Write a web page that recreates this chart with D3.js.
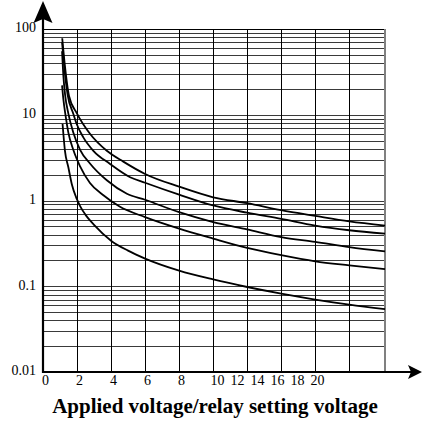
<!DOCTYPE html>
<html>
<head>
<meta charset="utf-8">
<script src="https://cdn.jsdelivr.net/npm/d3@7"></script>
<style>
  body { margin: 0; background: #fff; }
  svg { display: block; }
</style>
</head>
<body>
<div class="chart"></div>
<script>
// GLOBAL CONSTANTS
const FRAME_WIDTH = 423;
const FRAME_HEIGHT = 423;
const MARGINS = {left: 43, right: 38, top: 29, bottom: 51};
const SERIF = "Liberation Serif";

const GRAPH_WIDTH = FRAME_WIDTH - MARGINS.left - MARGINS.right;
const GRAPH_HEIGHT = FRAME_HEIGHT - MARGINS.top - MARGINS.bottom;

// DATA
const X_TICKS = [0, 2, 4, 6, 8, 10, 12, 14, 16, 18, 20];
const X_GRID = [2, 4, 6, 8, 10, 12, 14, 16, 18];
const X_MAX = 20.1;
const Y_TICKS = [0.01, 0.1, 1, 10, 100];
const Y_TICK_LABELS = ["0.01", "0.1", "1", "10", "100"];
const X_TITLE = "Applied voltage/relay setting voltage";

const CURVE_A = [[1.13, 78], [1.29, 37], [1.53, 16.6], [2.0, 10.3], [2.76, 6.0], [3.75, 3.8],
                 [4.72, 2.84], [6, 2.04], [8, 1.45], [10, 1.09], [12, 0.93], [14, 0.77],
                 [16, 0.66], [18, 0.57], [20.1, 0.51]];
const CURVE_B = [[1.12, 70], [1.25, 36], [1.45, 17], [1.78, 10.3], [1.98, 7.8], [2.37, 5.45],
                 [2.96, 3.8], [3.94, 2.67], [5.12, 1.87], [6, 1.61], [8, 1.17], [10, 0.875],
                 [12, 0.72], [14, 0.61], [16, 0.51], [18, 0.45], [20.1, 0.41]];
const CURVE_C = [[1.12, 55], [1.2, 28], [1.3, 17], [1.49, 10.3], [1.78, 6.2], [2.18, 3.9],
                 [2.76, 2.7], [3.75, 1.72], [4.93, 1.2], [6, 1.02], [8, 0.73], [10, 0.56],
                 [12, 0.46], [14, 0.375], [16, 0.33], [18, 0.286], [20.1, 0.255]];
const CURVE_D = [[1.12, 22], [1.2, 15], [1.31, 10.3], [1.49, 6.2], [1.78, 3.9], [2.18, 2.5],
                 [2.76, 1.6], [3.55, 1.15], [4.5, 0.85], [6, 0.64], [8, 0.47], [10, 0.36],
                 [12, 0.28], [14, 0.23], [16, 0.195], [18, 0.175], [20.1, 0.158]];
const CURVE_E = [[1.15, 7.8], [1.29, 3.8], [1.49, 2.44], [1.69, 1.56], [1.98, 1.05], [2.18, 0.86],
                 [2.5, 0.68], [3, 0.52], [4, 0.34], [5, 0.26], [6, 0.21], [8, 0.152],
                 [10, 0.12], [12, 0.098], [14, 0.082], [16, 0.07], [18, 0.061], [20.1, 0.054]];

// FRAME
const FRAME = d3.select(".chart")
                .append("svg")
                  .attr("width", FRAME_WIDTH)
                  .attr("height", FRAME_HEIGHT);

// SCALES
const X_SCALE = d3.scaleLinear()
                  .domain([0, X_MAX])
                  .range([MARGINS.left, MARGINS.left + GRAPH_WIDTH]);

const Y_SCALE = d3.scaleLog()
                  .domain([0.01, 100])
                  .range([MARGINS.top + GRAPH_HEIGHT, MARGINS.top]);

// the printed x labels drift off the grid after 8, so they get their own scale
const X_LABEL_SCALE = d3.scaleLinear()
                        .domain([0, 8, 10, 20])
                        .range([45, 181, 217, 317]);

const crisp = (v) => Math.round(v) + 0.5;

// HORIZONTAL GRID (decades and 2..9 minors)
FRAME.append("g")
  .selectAll("line")
  .data(Y_SCALE.ticks().filter((d) => d > 0.01))
  .enter()
  .append("line")
    .attr("x1", MARGINS.left)
    .attr("x2", X_SCALE(X_MAX))
    .attr("y1", (d) => crisp(Y_SCALE(d)))
    .attr("y2", (d) => crisp(Y_SCALE(d)))
    .attr("stroke", (d) => d === 100 ? "#000" : "#3a3a3a")
    .attr("stroke-width", 1);

// VERTICAL GRID
FRAME.append("g")
  .selectAll("line")
  .data(X_GRID)
  .enter()
  .append("line")
    .attr("x1", (d) => crisp(X_SCALE(d)))
    .attr("x2", (d) => crisp(X_SCALE(d)))
    .attr("y1", Y_SCALE(100))
    .attr("y2", Y_SCALE(0.01))
    .attr("stroke", "#000")
    .attr("stroke-width", 1);

// RIGHT BORDER
FRAME.append("line")
  .attr("x1", X_SCALE(X_MAX))
  .attr("x2", X_SCALE(X_MAX))
  .attr("y1", Y_SCALE(100))
  .attr("y2", Y_SCALE(0.01))
  .attr("stroke", "#808080")
  .attr("stroke-width", 2);

// CURVES
const LINE = d3.line()
               .x((d) => X_SCALE(d[0]))
               .y((d) => Y_SCALE(d[1]))
               .curve(d3.curveMonotoneX);

FRAME.append("g")
  .selectAll("path")
  .data([CURVE_A, CURVE_B, CURVE_C, CURVE_D, CURVE_E])
  .enter()
  .append("path")
    .attr("d", LINE)
    .attr("fill", "none")
    .attr("stroke", "#000")
    .attr("stroke-width", 1.8);

// AXIS LINES + ARROWS
const X0 = X_SCALE(0);
const Y0 = Y_SCALE(0.01);

FRAME.append("line")
  .attr("x1", X0).attr("x2", X0)
  .attr("y1", Y0 + 1).attr("y2", 12)
  .attr("stroke", "#000")
  .attr("stroke-width", 2.2);

FRAME.append("line")
  .attr("x1", X0 - 1).attr("x2", 412)
  .attr("y1", Y0).attr("y2", Y0)
  .attr("stroke", "#000")
  .attr("stroke-width", 2.2);

FRAME.append("path")
  .attr("d", "M" + X0 + ",1 L" + (X0 + 9.5) + ",23 L" + X0 + ",19 L" + (X0 - 9.5) + ",23 Z")
  .attr("fill", "#000");

FRAME.append("path")
  .attr("d", "M422," + Y0 + " L408," + (Y0 - 7) + " L411," + Y0 + " L408," + (Y0 + 7) + " Z")
  .attr("fill", "#000");

// X TICK LABELS
const X_AXIS = FRAME.append("g")
  .attr("transform", "translate(0," + Y0 + ")")
  .call(d3.axisBottom(X_LABEL_SCALE)
          .tickValues(X_TICKS)
          .tickSize(0)
          .tickPadding(3));
X_AXIS.select(".domain").remove();

// Y TICK LABELS
const Y_AXIS = FRAME.append("g")
  .attr("transform", "translate(" + X0 + ",0)")
  .call(d3.axisLeft(Y_SCALE)
          .tickValues(Y_TICKS)
          .tickFormat((d, i) => Y_TICK_LABELS[i])
          .tickSize(0)
          .tickPadding(7));
Y_AXIS.select(".domain").remove();
Y_AXIS.selectAll("text").attr("dy", "0.2em");

FRAME.selectAll(".tick text")
  .style("font-family", SERIF)
  .style("font-size", "14px")
  .style("fill", "#000");

// X TITLE
FRAME.append("text")
  .attr("x", 215)
  .attr("y", 413)
  .attr("text-anchor", "middle")
  .style("font-family", SERIF)
  .style("font-weight", "bold")
  .style("font-size", "21px")
  .text(X_TITLE);
</script>
</body>
</html>
